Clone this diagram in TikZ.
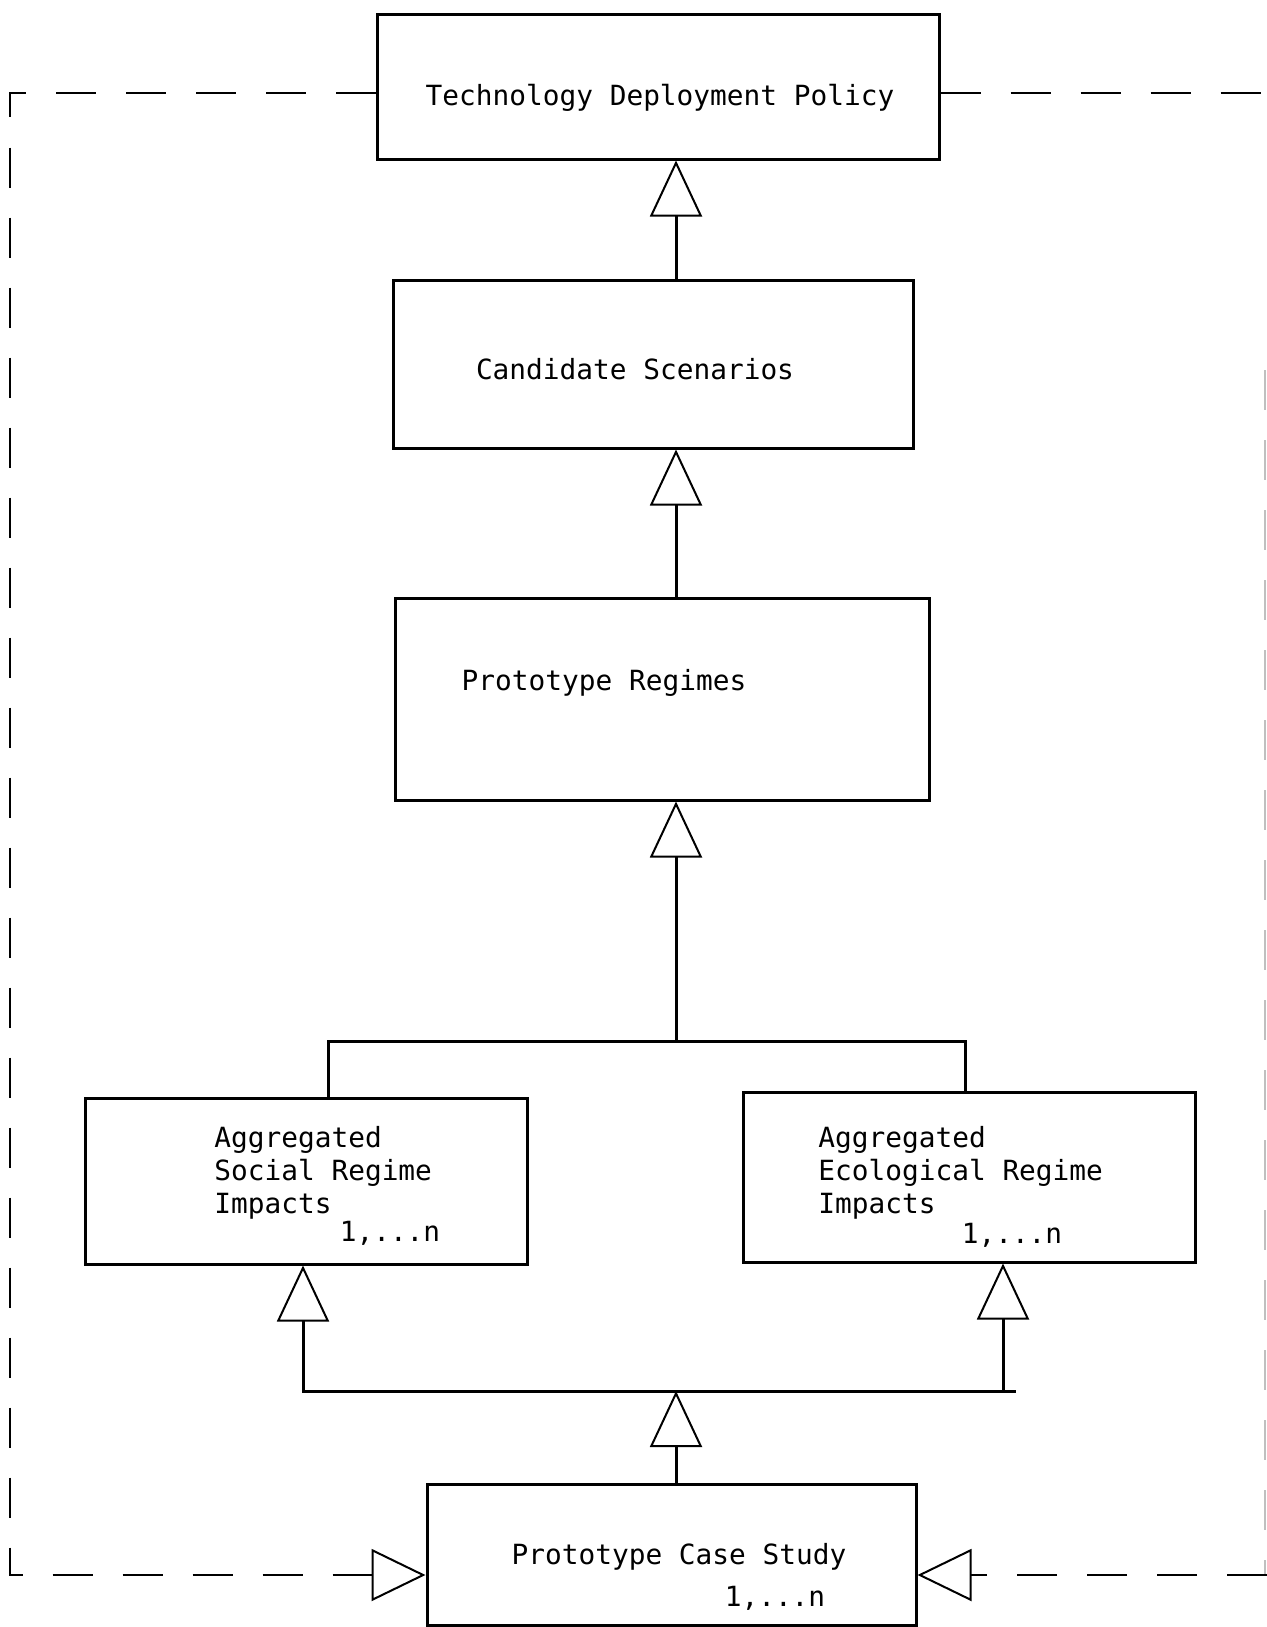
\documentclass[tikz,border=0pt]{standalone}
\usepackage{fontspec}
\setmonofont{DejaVu Sans Mono}
\usetikzlibrary{arrows.meta}
\begin{document}
\begin{tikzpicture}[x=0.5pt,y=-0.5pt,
  box/.style={draw, line width=1.5pt, inner sep=0pt},
  txt/.style={font=\ttfamily\fontsize{13.9pt}{16.5pt}\selectfont, inner sep=0pt},
  link/.style={line width=1.5pt, line cap=rect},
  up/.style={line width=1.5pt, line cap=rect, -{Triangle[open, length=28pt, width=26pt, line width=1pt]}},
  fb/.style={line width=1pt, dash pattern=on 20pt off 15pt},
  fbtip/.style={line width=1pt, -{Triangle[open, length=27pt, width=26pt, line width=1pt]}},
  faint/.style={line width=0.6pt, black!25, dash pattern=on 20pt off 15pt}]
\useasboundingbox (0,0) rectangle (1267,1627);

% boxes
\node[box, minimum width=281pt, minimum height=72pt] (tdp) at (658,87) {};
\node[box, minimum width=260pt, minimum height=84pt] (cand) at (653,364) {};
\node[box, minimum width=267pt, minimum height=101pt] (proto) at (662,699) {};
\node[box, minimum width=221pt, minimum height=83pt] (social) at (306,1181) {};
\node[box, minimum width=226pt, minimum height=85pt] (eco) at (969,1177) {};
\node[box, minimum width=244.5pt, minimum height=70.5pt] (case) at (671.5,1554.5) {};

% texts
\node[txt] (tdpT) at (660,98) {Technology Deployment Policy};
\node[txt] (candT) at (635,369) {Candidate Scenarios};
\node[txt] (protoT) at (604,683) {Prototype Regimes};
\node[txt, align=left, anchor=west] (socialT) at (214,1173) {Aggregated\\Social Regime\\Impacts};
\node[txt] (socialN) at (390,1233) {1,...n};
\node[txt, align=left, anchor=west] (ecoT) at (818,1173) {Aggregated\\Ecological Regime\\Impacts};
\node[txt] (ecoN) at (1012,1235) {1,...n};
\node[txt] (caseT) at (679,1557) {Prototype Case Study};
\node[txt] (caseN) at (775,1598) {1,...n};

% spine connectors
\coordinate (spine) at (676,0);
\draw[up] (cand.north -| spine) -- (tdp.south -| spine);
\draw[up] (proto.north -| spine) -- (cand.south -| spine);
\coordinate (jt) at (676,1041);
\coordinate (jl) at (328,1041);
\coordinate (jr) at (965,1041);
\draw[up] (jt) -- (proto.south -| spine);
\draw[link] (social.north -| jl) -- (jl) -- (jr) -- (eco.north -| jr);

\coordinate (bl) at (303,1391);
\coordinate (br) at (1003,1391);
\coordinate (bm) at (676,1391);
\coordinate (brx) at (1014,1391);
\draw[link] (bl) -- (brx);
\draw[up] (bl) -- (social.south -| bl);
\draw[up] (br) -- (eco.south -| br);
\draw[up] (case.north -| spine) -- (bm);

% feedback loop
\coordinate (tl) at (10,93);
\coordinate (blc) at (10,1575);
\coordinate (la) at (360,1575);
\coordinate (tr) at (1267,93);
\coordinate (brc) at (1267,1575);
\coordinate (ra) at (986,1575);
\draw[fb] (tdp.west |- tl) -- (tl) -- (blc) -- (la);
\draw[fbtip] (la) -- (case.west |- blc);
\draw[fb] (tdp.east |- tr) -- (tr);
\draw[faint] (1265,370) -- (1265,1575);
\draw[fb] (brc) -- (ra);
\draw[fbtip] (ra) -- (case.east |- brc);
\end{tikzpicture}
\end{document}
